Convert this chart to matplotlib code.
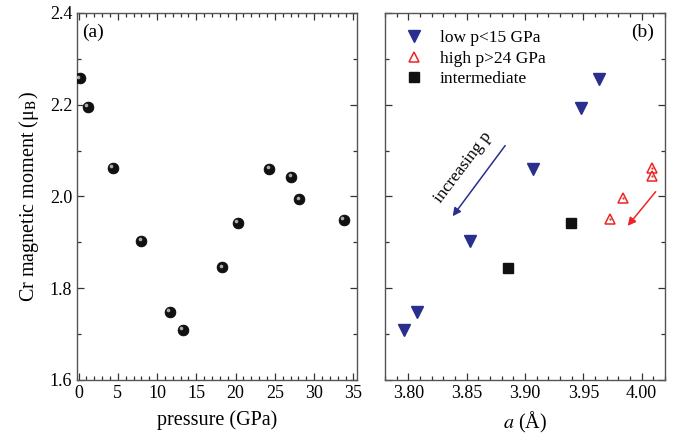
import matplotlib
matplotlib.use("Agg")
import matplotlib.pyplot as plt
from matplotlib.ticker import MultipleLocator
from matplotlib.transforms import offset_copy

plt.rcParams['font.family'] = ['Liberation Serif', 'DejaVu Serif']
plt.rcParams['mathtext.fontset'] = 'stix'

# Panel (a): moment vs pressure
pressure = [0.15, 1.2, 4.35, 8.0, 11.6, 13.25, 18.3, 20.3, 24.3, 27.1, 28.1, 33.8]
moment_a = [2.258, 2.196, 2.063, 1.904, 1.749, 1.710, 1.846, 1.943, 2.060, 2.043, 1.994, 1.949]

# Panel (b): moment vs lattice parameter a
a_low = [3.963, 3.948, 3.907, 3.853, 3.807, 3.796]
m_low = [2.256, 2.194, 2.061, 1.904, 1.748, 1.708]
a_high = [4.009, 4.009, 3.984, 3.973]
m_high = [2.063, 2.045, 1.996, 1.951]
a_mid = [3.939, 3.885]
m_mid = [1.943, 1.845]

W, H = 673, 438
fig = plt.figure(figsize=(W / 100, H / 100), dpi=100)
axa = fig.add_axes([77 / W, 1 - 380 / H, (357.3 - 77) / W, (380 - 13) / H])
axb = fig.add_axes([385 / W, 1 - 380 / H, (665 - 385) / W, (380 - 13) / H])

spine_c = '#555555'
for ax in (axa, axb):
    for s in ax.spines.values():
        s.set_color(spine_c)
        s.set_linewidth(1.0)
    ax.tick_params(which='both', direction='in', top=True, right=True,
                   color='#333333', labelsize=13, width=0.9)
    ax.tick_params(which='major', length=5)
    ax.tick_params(which='minor', length=3)
    ax.set_ylim(1.6, 2.4)
    ax.yaxis.set_major_locator(MultipleLocator(0.2))
    ax.yaxis.set_minor_locator(MultipleLocator(0.1))

# Panel (a)
axa.set_xlim(-0.2, 35.5)
axa.xaxis.set_major_locator(MultipleLocator(5))
axa.xaxis.set_minor_locator(MultipleLocator(1))
axa.yaxis.set_major_formatter(matplotlib.ticker.FormatStrFormatter('%.1f'))
axa.plot(pressure, moment_a, 'o', ms=7.8, mfc='#111111', mec='#000000', mew=0.5, ls='none', zorder=3)
hl = offset_copy(axa.transData, fig=fig, x=-1.5, y=1.5, units='dots')
axa.plot(pressure, moment_a, 'o', ms=2.6, mfc='#c8c8c8', mec='none', alpha=0.85,
         transform=hl, ls='none', zorder=4)
axa.set_xlabel('pressure (GPa)', fontsize=14.5, labelpad=6)
axa.set_ylabel('Cr magnetic moment (μ$_{\\mathrm{B}}$)', fontsize=14.5, labelpad=6)
axa.text(0.02, 0.97, '(a)', transform=axa.transAxes, fontsize=14, va='top', ha='left')

# Panel (b)
axb.set_xlim(3.78, 4.02)
axb.xaxis.set_major_locator(MultipleLocator(0.05))
axb.xaxis.set_minor_locator(MultipleLocator(0.01))
axb.xaxis.set_major_formatter(matplotlib.ticker.FormatStrFormatter('%.2f'))
axb.tick_params(axis='y', labelleft=False)

blue = '#2a2e8c'
red = '#ee2424'
axb.plot(a_low, m_low, 'v', ms=8.5, mfc=blue, mec=blue, ls='none', label='low p<15 GPa')
axb.plot(a_high, m_high, '^', ms=7.5, mfc='white', mec=red, mew=1.1, ls='none', label='high p>24 GPa')
axb.plot(a_high, m_high, '.', ms=1.2, color=red, ls='none')
axb.plot(a_mid, m_mid, 's', ms=6.5, mfc='#111111', mec='#111111', ls='none', label='intermediate')

axb.annotate('', xy=(3.838, 1.957), xytext=(3.883, 2.111),
             arrowprops=dict(arrowstyle='-|>', color=blue, lw=1.1, mutation_scale=12, shrinkA=0, shrinkB=0))
axb.annotate('', xy=(3.988, 1.936), xytext=(4.012, 2.0105),
             arrowprops=dict(arrowstyle='-|>', color=red, lw=1.1, mutation_scale=12, shrinkA=0, shrinkB=0))
axb.text(3.847, 2.064, 'increasing p', rotation=53, fontsize=12.5, ha='center', va='center',
         rotation_mode='anchor')

leg = axb.legend(loc='upper left', frameon=False, fontsize=12.5, handletextpad=0.75,
                 borderaxespad=0.2, labelspacing=0.25, handlelength=1.5,
                 bbox_to_anchor=(0.02, 0.982))
axb.text(0.96, 0.97, '(b)', transform=axb.transAxes, fontsize=14, va='top', ha='right')
axb.set_xlabel('$\\it{a}$ (Å)', fontsize=14.5, labelpad=6)

fig.savefig('out.png', dpi=100)
